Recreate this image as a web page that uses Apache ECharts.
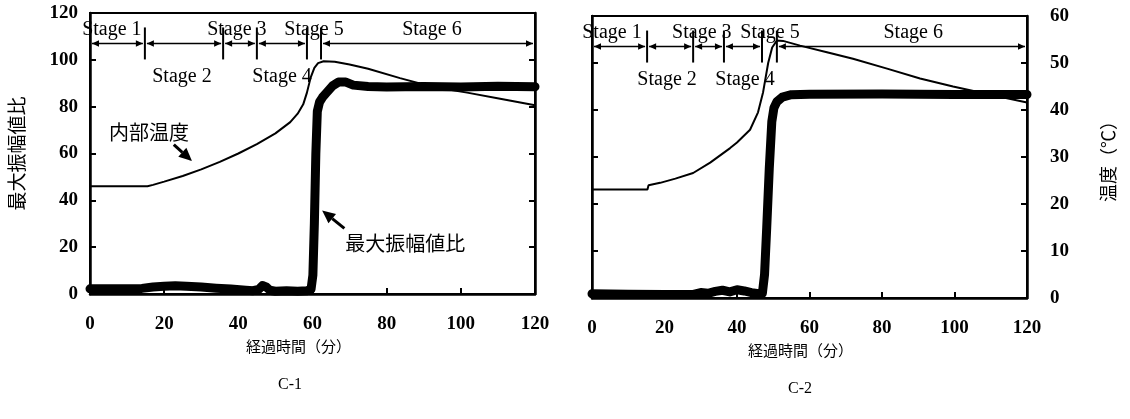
<!DOCTYPE html>
<html><head><meta charset="utf-8">
<script src="https://cdn.jsdelivr.net/npm/echarts@6/dist/echarts.min.js"></script>
<style>html,body{margin:0;padding:0;background:#fff}#c{width:1130px;height:419px}</style>
</head><body><div id="c"></div>
<script>
// ---------------- data ----------------
// C-1 internal temperature (°C) vs elapsed time (min)
const c1TempT = [0, 15.5, 17, 20, 25, 30, 35, 40, 45, 50, 54, 56, 57.5, 58.5, 59.5, 60.5, 61.5, 63, 66, 70, 75, 83.6, 92.5, 101.7, 110.6, 120];
const c1TempV = [23.0, 23.0, 23.3, 24.0, 25.2, 26.6, 28.2, 30.0, 32.0, 34.3, 36.7, 38.5, 40.5, 43.0, 46.2, 48.3, 49.3, 49.7, 49.6, 49.0, 48.1, 46.1, 44.2, 43.0, 41.7, 40.3];
// C-1 max amplitude ratio
const c1AmpT = [0, 5, 10, 14, 17, 20, 23, 26, 30, 34, 38, 42, 44, 45.5, 46.5, 47.5, 48.5, 50, 53, 56, 58.5, 59.6, 60.1, 60.5, 60.9, 61.3, 61.9, 62.7, 63.8, 65.5, 67, 69, 71, 75, 80, 90, 100, 110, 120];
const c1AmpV = [2.2, 2.2, 2.2, 2.4, 3.0, 3.3, 3.5, 3.3, 3.0, 2.5, 2.1, 1.6, 1.4, 2.0, 3.6, 3.0, 1.6, 1.2, 1.4, 1.2, 1.4, 2.0, 8, 30, 60, 78, 82, 84, 86, 89, 90.5, 90.5, 89.2, 88.6, 88.4, 88.6, 88.4, 88.7, 88.5];
// C-2 internal temperature
const c2TempT = [0, 15.3, 15.6, 18.8, 23, 27.9, 32.6, 38.1, 40, 43.6, 45.8, 47.2, 48.6, 49.7, 51.0, 52.7, 57.4, 64.8, 72.0, 81.4, 90.5, 99.6, 109.0, 120];
const c2TempV = [23.1, 23.1, 24.0, 24.5, 25.4, 26.6, 28.8, 31.9, 33.1, 35.8, 39.5, 43.8, 50.0, 53.3, 54.8, 54.7, 53.7, 52.3, 50.9, 48.8, 46.7, 45.0, 43.4, 41.6];
// C-2 max amplitude ratio
const c2AmpT = [0, 10, 20, 28, 30, 32, 34, 36, 38, 40, 42, 44, 46, 47, 47.6, 48.2, 48.9, 49.6, 50.2, 51, 52.5, 55, 60, 80, 100, 120];
const c2AmpV = [1.8, 1.6, 1.5, 1.5, 2.3, 2.0, 2.8, 3.3, 2.6, 3.5, 3.0, 2.3, 1.8, 2.0, 10, 30, 55, 75, 81, 83.5, 85.5, 86.5, 86.7, 86.8, 86.6, 86.6];

// stages
const stageNames = ['Stage 1', 'Stage 2', 'Stage 3', 'Stage 4', 'Stage 5', 'Stage 6'];
const stageSide = [1, -1, 1, -1, 1, 1];          // 1 = label above the bar, -1 = below
const c1StageBounds = [0, 14.8, 35.9, 45.0, 58.5, 62.3, 120];
const c1StageLabelT = [5.9, 24.8, 39.6, 51.8, 60.4, 92.2];
const c2StageBounds = [0, 15.2, 27.9, 36.4, 46.9, 51.0, 120];
const c2StageLabelT = [5.5, 20.7, 30.3, 42.2, 49.1, 88.6];
const stageBarLevel = 107;                         // on the 0-120 axis

// in-plot annotations (C-1): text, text anchor (t, v), arrow from (t, v) to tip (t, v)
const c1NoteTexts = ['内部温度', '最大振幅値比'];
const c1NoteAt = [[15.9, 69.2], [85.0, 21.5]];
const c1NoteArrow = [[22.6, 63.8, 27.5, 56.8], [68.6, 28.0, 62.6, 35.7]];

// axes / tick labels
const xTicks = [0, 20, 40, 60, 80, 100, 120];
const ampTicks = [0, 20, 40, 60, 80, 100, 120];
const tempTicks = [0, 10, 20, 30, 40, 50, 60];
const xName = '経過時間（分）';
const ampName = '最大振幅値比';
const tempName = '温度（℃）';
const captions = ['C-1', 'C-2'];

// ---------------- chart ----------------
const zip = (a, b) => a.map((v, i) => [v, b[i]]);
const NUM_FONT = '"Liberation Serif", "Times New Roman", serif';
const CJK_FONT = '"Noto Sans CJK JP", sans-serif';

function stageData(bounds, labelT) {
  return stageNames.map((n, i) => [bounds[i], bounds[i + 1], labelT[i], stageSide[i], i]);
}
function stageRender(params, api) {
  const i = api.value(4);
  const a = api.value(0), b = api.value(1), lt = api.value(2), side = api.value(3);
  const p0 = api.coord([a, stageBarLevel]);
  const p1 = api.coord([b, stageBarLevel]);
  const pl = api.coord([lt, stageBarLevel]);
  const y = p0[1];
  const ch = [];
  if (p1[0] - p0[0] > 20) {
    const g = 2, L = 7, H = 3.2;
    const x0 = p0[0] + g, x1 = p1[0] - g;
    ch.push({ type: 'line', shape: { x1: x0, y1: y, x2: x1, y2: y }, style: { stroke: '#000', lineWidth: 1.5 } });
    ch.push({ type: 'polygon', shape: { points: [[x0, y], [x0 + L, y - H], [x0 + L, y + H]] }, style: { fill: '#000' } });
    ch.push({ type: 'polygon', shape: { points: [[x1, y], [x1 - L, y - H], [x1 - L, y + H]] }, style: { fill: '#000' } });
  }
  if (i < stageNames.length - 1) {
    ch.push({ type: 'line', shape: { x1: p1[0], y1: y - 16, x2: p1[0], y2: y + 16 }, style: { stroke: '#000', lineWidth: 2 } });
  }
  ch.push({
    type: 'text', x: pl[0], y: side > 0 ? y - 14 : y + 33,
    style: { text: stageNames[i], font: '20px ' + NUM_FONT, fill: '#000',
      align: 'center', verticalAlign: 'middle', textAlign: 'center', textVerticalAlign: 'middle' }
  });
  return { type: 'group', children: ch };
}
function noteRender(params, api) {
  const i = params.dataIndex;
  const pt = api.coord([api.value(0), api.value(1)]);
  const pf = api.coord([api.value(2), api.value(3)]);
  const pp = api.coord([api.value(4), api.value(5)]);
  const dx = pp[0] - pf[0], dy = pp[1] - pf[1];
  const len = Math.sqrt(dx * dx + dy * dy);
  const ux = dx / len, uy = dy / len;
  const L = 13, H = 6;
  const bx = pp[0] - ux * L, by = pp[1] - uy * L;
  return { type: 'group', children: [
    { type: 'text', x: pt[0], y: pt[1],
      style: { text: c1NoteTexts[i], font: '20px ' + CJK_FONT, fill: '#000',
        align: 'center', verticalAlign: 'middle', textAlign: 'center', textVerticalAlign: 'middle' } },
    { type: 'line', shape: { x1: pf[0], y1: pf[1], x2: bx, y2: by }, style: { stroke: '#000', lineWidth: 3 } },
    { type: 'polygon', shape: { points: [[pp[0], pp[1]], [bx - uy * H, by + ux * H], [bx + uy * H, by - ux * H]] }, style: { fill: '#000' } }
  ] };
}

const axisLine = { show: true, lineStyle: { color: '#000', width: 2.5 } };
const tickIn = { show: true, inside: true, length: 6, lineStyle: { color: '#000', width: 2 } };
const numLabel = (show, margin) => ({ show, color: '#000', fontFamily: NUM_FONT, fontWeight: 'bold', fontSize: 19, margin });

function xAxisFor(g, shiftPad) {
  return {
    type: 'value', gridIndex: g, min: xTicks[0], max: xTicks[xTicks.length - 1], interval: xTicks[1] - xTicks[0],
    axisLine, axisTick: tickIn, splitLine: { show: false }, axisLabel: numLabel(true, 21),
    name: xName, nameLocation: 'middle', nameGap: 41,
    nameTextStyle: { color: '#000', fontFamily: CJK_FONT, fontSize: 15, padding: [0, shiftPad, 0, 0] }
  };
}

const option = {
  animation: false,
  backgroundColor: '#fff',
  grid: [
    { left: 90, top: 13, width: 445, height: 281, show: true, borderColor: '#000', borderWidth: 2, backgroundColor: 'transparent' },
    { left: 592, top: 16, width: 435, height: 282, show: true, borderColor: '#000', borderWidth: 2, backgroundColor: 'transparent' }
  ],
  xAxis: [xAxisFor(0, 28), xAxisFor(1, 18)],
  yAxis: [
    { type: 'value', gridIndex: 0, position: 'left', min: ampTicks[0], max: ampTicks[ampTicks.length - 1], interval: 20,
      axisLine, axisTick: tickIn, splitLine: { show: false }, axisLabel: numLabel(true, 12),
      name: ampName, nameLocation: 'middle', nameRotate: 90, nameGap: 64,
      nameTextStyle: { color: '#000', fontFamily: CJK_FONT, fontSize: 19 } },
    { type: 'value', gridIndex: 0, position: 'right', min: tempTicks[0], max: tempTicks[tempTicks.length - 1], interval: 10,
      axisLine, axisTick: tickIn, splitLine: { show: false }, axisLabel: { show: false } },
    { type: 'value', gridIndex: 1, position: 'left', min: ampTicks[0], max: ampTicks[ampTicks.length - 1], interval: 20,
      axisLine, axisTick: tickIn, splitLine: { show: false }, axisLabel: { show: false } },
    { type: 'value', gridIndex: 1, position: 'right', min: tempTicks[0], max: tempTicks[tempTicks.length - 1], interval: 10,
      axisLine, axisTick: tickIn, splitLine: { show: false }, axisLabel: numLabel(true, 23),
      name: tempName, nameLocation: 'middle', nameRotate: 90, nameGap: 72,
      nameTextStyle: { color: '#000', fontFamily: CJK_FONT, fontSize: 18 } }
  ],
  graphic: [
    { type: 'text', x: 290, y: 385, style: { text: captions[0], font: '16px ' + NUM_FONT, fill: '#000', align: 'center', verticalAlign: 'middle', textAlign: 'center', textVerticalAlign: 'middle' } },
    { type: 'text', x: 800, y: 389, style: { text: captions[1], font: '16px ' + NUM_FONT, fill: '#000', align: 'center', verticalAlign: 'middle', textAlign: 'center', textVerticalAlign: 'middle' } }
  ],
  series: [
    { type: 'line', xAxisIndex: 0, yAxisIndex: 1, data: zip(c1TempT, c1TempV), showSymbol: false, silent: true, clip: false,
      lineStyle: { color: '#000', width: 2 } },
    { type: 'line', xAxisIndex: 0, yAxisIndex: 0, data: zip(c1AmpT, c1AmpV), showSymbol: false, silent: true, clip: false,
      lineStyle: { color: '#000', width: 9, cap: 'round', join: 'round' } },
    { type: 'line', xAxisIndex: 1, yAxisIndex: 3, data: zip(c2TempT, c2TempV), showSymbol: false, silent: true, clip: false,
      lineStyle: { color: '#000', width: 2 } },
    { type: 'line', xAxisIndex: 1, yAxisIndex: 2, data: zip(c2AmpT, c2AmpV), showSymbol: false, silent: true, clip: false,
      lineStyle: { color: '#000', width: 9, cap: 'round', join: 'round' } },
    { type: 'custom', xAxisIndex: 0, yAxisIndex: 0, data: stageData(c1StageBounds, c1StageLabelT), renderItem: stageRender, silent: true, clip: false },
    { type: 'custom', xAxisIndex: 1, yAxisIndex: 2, data: stageData(c2StageBounds, c2StageLabelT), renderItem: stageRender, silent: true, clip: false },
    { type: 'custom', xAxisIndex: 0, yAxisIndex: 0,
      data: c1NoteTexts.map((t, i) => [c1NoteAt[i][0], c1NoteAt[i][1]].concat(c1NoteArrow[i])),
      renderItem: noteRender, silent: true, clip: false }
  ]
};
const chart = echarts.init(document.getElementById('c'), null, { renderer: 'canvas' });
chart.setOption(option);
</script>
</body></html>
